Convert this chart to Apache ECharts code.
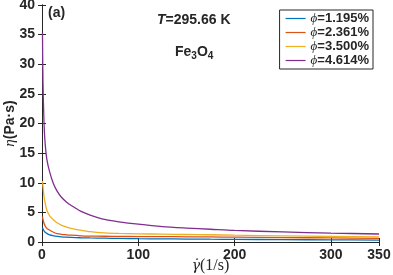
<!DOCTYPE html>
<html>
<head>
<meta charset="utf-8">
<script src="https://cdn.jsdelivr.net/npm/echarts@6/dist/echarts.min.js"></script>
<style>html,body{margin:0;padding:0;background:#fff}#c{width:393px;height:275px}</style>
</head>
<body>
<div id="c"></div>
<script>
// Shear rate samples (1/s)
const shearRate = [0.5, 1, 2, 3, 5, 8, 12, 16, 20, 25, 30, 40, 50, 65, 80, 100, 125, 150, 175, 200, 250, 300, 350];
// Viscosity (Pa·s) for each volume fraction
const eta1195 = [2.4, 2.2, 1.9, 1.7, 1.45, 1.2, 1.05, 0.95, 0.88, 0.82, 0.78, 0.72, 0.68, 0.64, 0.6, 0.56, 0.53, 0.5, 0.47, 0.45, 0.4, 0.36, 0.33];
const eta2361 = [4.3, 3.8, 3.2, 2.8, 2.3, 2.0, 1.65, 1.4, 1.3, 1.22, 1.15, 1.05, 1.0, 0.97, 0.94, 0.92, 0.9, 0.88, 0.85, 0.82, 0.75, 0.68, 0.62];
const eta3500 = [10.3, 9.5, 7.8, 6.8, 5.4, 4.4, 3.7, 3.2, 2.85, 2.55, 2.3, 2.0, 1.75, 1.55, 1.45, 1.38, 1.32, 1.27, 1.22, 1.15, 1.03, 0.93, 0.85];
const eta4614 = [35.3, 27, 20.6, 17.2, 14, 11.8, 9.8, 8.5, 7.6, 6.8, 6.2, 5.2, 4.55, 3.8, 3.4, 3.0, 2.6, 2.35, 2.15, 1.95, 1.7, 1.5, 1.35];
const seriesNames = ['1.195%', '2.361%', '3.500%', '4.614%'];
const xTicks = [0, 100, 200, 300, 350];
const yTicks = [0, 5, 10, 15, 20, 25, 30, 35, 40];

const colors = ['#0072BD', '#D95319', '#EDB120', '#7E2F8E'];
const allEta = [eta1195, eta2361, eta3500, eta4614];
const pair = arr => shearRate.map((x, i) => [x, arr[i]]);

const axisCol = '#262626';
const fontB = {fontFamily: 'Liberation Sans', fontWeight: 'bold', fontSize: 14, color: '#262626'};

const chart = echarts.init(document.getElementById('c'), null, {renderer: 'canvas'});
chart.setOption({
  animation: false,
  grid: {left: 42, right: 14, top: 5, bottom: 33, containLabel: false, outerBoundsMode: 'none'},
  legend: {
    orient: 'vertical', right: 20, top: 10,
    backgroundColor: '#fff', borderColor: '#262626', borderWidth: 1,
    padding: [2, 4, 2, 6], itemWidth: 20, itemHeight: 10, itemGap: 1,
    data: seriesNames.map((n, k) => ({name: 'ϕ=' + n, icon: 'path://M0,4.4L20,4.4L20,5.6L0,5.6Z', itemStyle: {color: colors[k]}})),
    formatter: n => '{i|ϕ}{b|' + n.slice(1) + '}',
    textStyle: {
      lineHeight: 13,
      rich: {
        i: {fontFamily: 'Liberation Serif', fontStyle: 'italic', fontSize: 13, color: '#262626', lineHeight: 13},
        b: {fontFamily: 'Liberation Sans', fontWeight: 'bold', fontSize: 13, color: '#262626', lineHeight: 13}
      }
    }
  },
  xAxis: [{
    type: 'value', min: 0, max: 350, interval: 100, position: 'bottom',
    axisLine: {show: true, lineStyle: {color: axisCol, width: 1}},
    axisTick: {inside: true, length: 4, lineStyle: {color: axisCol}, customValues: xTicks},
    axisLabel: {...fontB, margin: 6, customValues: xTicks},
    splitLine: {show: false},
    name: '{g|γ̇}{r|(1/s)}', nameLocation: 'middle', nameGap: 16, nameMoveOverlap: false,
    nameTextStyle: {rich: {
      g: {fontFamily: 'DejaVu Serif', fontStyle: 'italic', fontSize: 14, color: '#262626'},
      r: {fontFamily: 'Liberation Serif', fontSize: 16, color: '#262626'}
    }}
  }, {
    type: 'value', min: 0, max: 350, interval: 100, position: 'top',
    axisLine: {show: true, lineStyle: {color: axisCol, width: 1}},
    axisTick: {inside: true, length: 4, lineStyle: {color: axisCol}},
    axisLabel: {show: false}, splitLine: {show: false}
  }],
  yAxis: [{
    type: 'value', min: 0, max: 40, interval: 5, position: 'left',
    axisLine: {show: true, lineStyle: {color: axisCol, width: 1}},
    axisTick: {inside: true, length: 4, lineStyle: {color: axisCol}},
    axisLabel: {...fontB, margin: 7, customValues: yTicks},
    splitLine: {show: false},
    name: '{e|η}{b|(Pa·s)}', nameLocation: 'middle', nameGap: 24, nameRotate: 90, nameMoveOverlap: false,
    nameTextStyle: {rich: {
      e: {fontFamily: 'Liberation Serif', fontStyle: 'italic', fontSize: 15, color: '#262626'},
      b: {fontFamily: 'Liberation Sans', fontWeight: 'bold', fontSize: 14, color: '#262626'}
    }}
  }, {
    type: 'value', min: 0, max: 40, interval: 5, position: 'right',
    axisLine: {show: true, lineStyle: {color: axisCol, width: 1}},
    axisTick: {inside: true, length: 4, lineStyle: {color: axisCol}},
    axisLabel: {show: false}, splitLine: {show: false}
  }],
  series: allEta.map((arr, k) => ({
    name: 'ϕ=' + seriesNames[k], type: 'line', data: pair(arr),
    xAxisIndex: 0, yAxisIndex: 0,
    showSymbol: false, smooth: 0.3, clip: true,
    lineStyle: {color: colors[k], width: 1.3}, itemStyle: {color: colors[k]}
  })),
  graphic: [
    {type: 'text', left: 48, top: 6, style: {text: '(a)', font: 'bold 14px "Liberation Sans"', fill: '#262626'}},
    {type: 'text', left: 157, top: 13, style: {
      text: '{i|T}{b|=295.66 K}',
      rich: {
        i: {fontFamily: 'Liberation Sans', fontStyle: 'italic', fontWeight: 'bold', fontSize: 14, fill: '#262626'},
        b: {fontFamily: 'Liberation Sans', fontWeight: 'bold', fontSize: 14, fill: '#262626'}
      }}},
    {type: 'text', left: 175, top: 45, style: {
      text: '{b|Fe}{s|3}{b|O}{s|4}',
      rich: {
        b: {fontFamily: 'Liberation Sans', fontWeight: 'bold', fontSize: 14, fill: '#262626', height: 16},
        s: {fontFamily: 'Liberation Sans', fontWeight: 'bold', fontSize: 10, fill: '#262626', padding: [9, 0, 0, 0], height: 16}
      }}}
  ]
});
</script>
</body>
</html>
